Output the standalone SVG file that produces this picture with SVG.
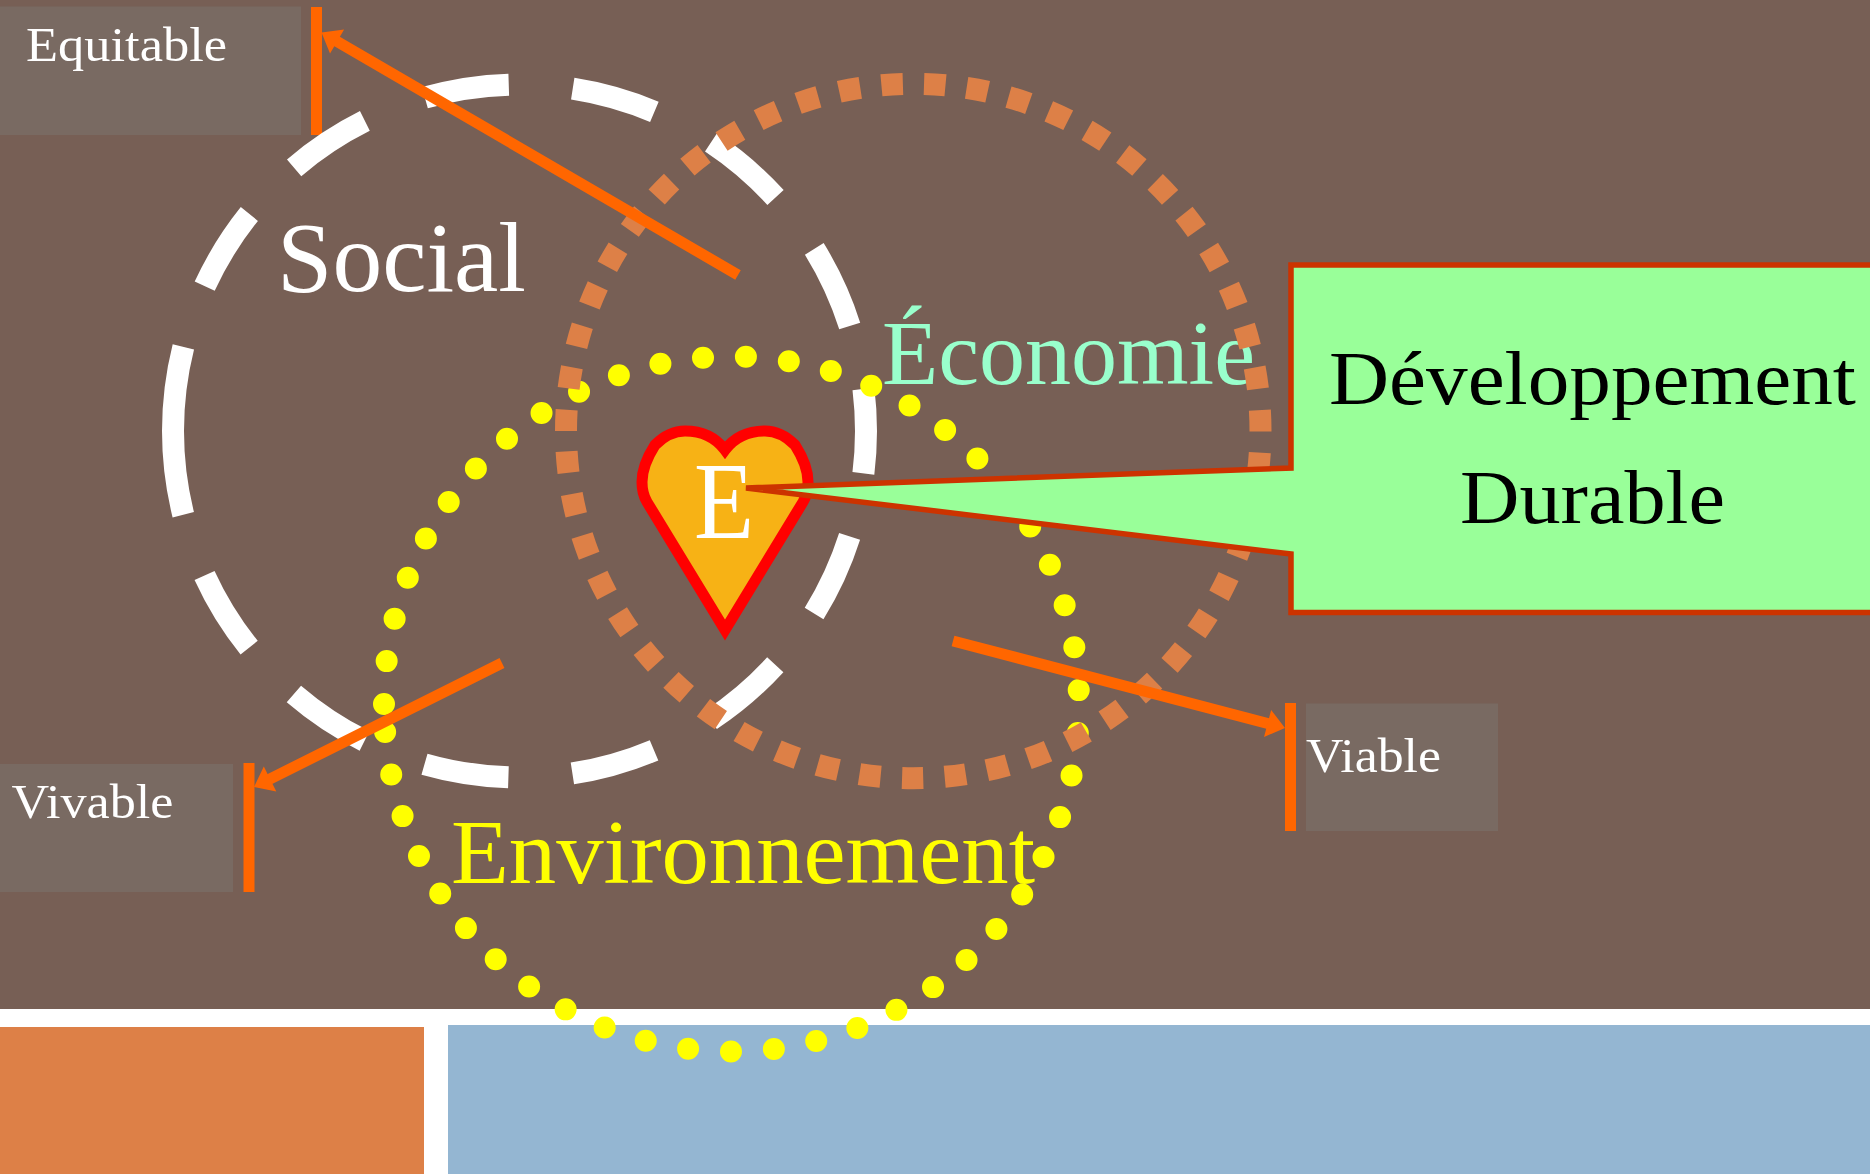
<svg xmlns="http://www.w3.org/2000/svg" width="1870" height="1174" viewBox="0 0 1870 1174">
<style>
text{font-family:"Liberation Serif","Times New Roman",serif}
.lbl{fill:#796A62}
.small{font-size:49px;fill:#fff}
.big{font-size:90px}
.bar{fill:#FF6600}
.ring{fill:none}
.arrow{fill:none;stroke:#FF6600;stroke-width:11;marker-end:url(#head)}
.dd{font-size:77px;fill:#000}
</style>
<defs>
<marker id="head" markerUnits="userSpaceOnUse" markerWidth="36" markerHeight="36" refX="0" refY="14" orient="auto" viewBox="-8 0 36 28">
<path d="M-6 0L12 14L-6 28Z" fill="#FF6600"/>
</marker>
</defs>
<rect id="background" width="1870" height="1174" fill="#775F55"/>
<g id="footer">
<rect x="0" y="1009" width="1870" height="165" fill="#fff"/>
<rect x="0" y="1027" width="424" height="147" fill="#DD8047"/>
<rect x="448" y="1025" width="1422" height="149" fill="#94B6D2"/>
</g>
<g id="equitable"><rect class="lbl" x="0" y="6.5" width="301" height="128.5"/><rect class="bar" x="311" y="7" width="11" height="128"/><text class="small" x="26" y="60.5" textLength="201" lengthAdjust="spacingAndGlyphs">Equitable</text></g>
<g id="vivable"><rect class="lbl" x="0" y="764" width="233" height="128"/><rect class="bar" x="243.5" y="763" width="11" height="129"/><text class="small" x="11.5" y="818" textLength="162" lengthAdjust="spacingAndGlyphs">Vivable</text></g>
<g id="viable"><rect class="lbl" x="1306" y="703.5" width="192" height="127.5"/><rect class="bar" x="1285" y="703" width="11" height="128"/><text class="small" x="1306" y="772" textLength="135" lengthAdjust="spacingAndGlyphs">Viable</text></g>
<g id="social">
<path class="ring" d="M173 431A346.5 346.5 0 1 1 866 431A346.5 346.5 0 1 1 173 431Z" stroke="#fff" stroke-width="22" stroke-dasharray="85 64.4"/>
<text x="277" y="291" style="font-size:100px" fill="#fff" textLength="249" lengthAdjust="spacingAndGlyphs">Social</text>
</g>
<g id="environnement">
<path class="ring" d="M384 704A347.5 347.5 0 1 1 1079 704A347.5 347.5 0 1 1 384 704Z" stroke="#FFFF00" stroke-width="22" stroke-linecap="round" stroke-dasharray="0 43.09"/>
<text class="big" x="451" y="883" fill="#FFFF00" textLength="584" lengthAdjust="spacingAndGlyphs">Environnement</text>
</g>
<g id="economie">
<text class="big" x="882" y="384" fill="#99FFCC" textLength="373" lengthAdjust="spacingAndGlyphs">Économie</text>
<path class="ring" d="M566 431A347.25 347.25 0 1 1 1260.5 431A347.25 347.25 0 1 1 566 431Z" stroke="#DD8047" stroke-width="22" stroke-dasharray="21.39 21.39"/>
</g>
<g id="connectors">
<path class="arrow" d="M738 275L331.9 38.5"/>
<path class="arrow" d="M502 663L264.7 781.6"/>
<path class="arrow" d="M953 641L1273.4 725"/>
</g>
<g id="heart">
<path d="M725 450C716 438 702 431 685 431C674 431 663 437 655 445C648 456 642 470 642 482C642 490 644 497 647 502L725 630L803 502C806 497 808 490 808 482C808 470 802 456 795 445C787 437 776 431 765 431C748 431 734 438 725 450Z" fill="#F7B215" stroke="#FF0000" stroke-width="11"/>
<text x="694" y="538" font-size="110" fill="#fff" textLength="60" lengthAdjust="spacingAndGlyphs">E</text>
</g>
<g id="developpement-durable">
<path d="M1291 265H1885V612.5H1291V554L746 488L1291 468Z" fill="#99FF99" stroke="#CC3300" stroke-width="5.5"/>
<text class="dd" x="1329" y="404" textLength="527" lengthAdjust="spacingAndGlyphs">Développement</text>
<text class="dd" x="1460" y="523" textLength="265" lengthAdjust="spacingAndGlyphs">Durable</text>
</g>
</svg>
